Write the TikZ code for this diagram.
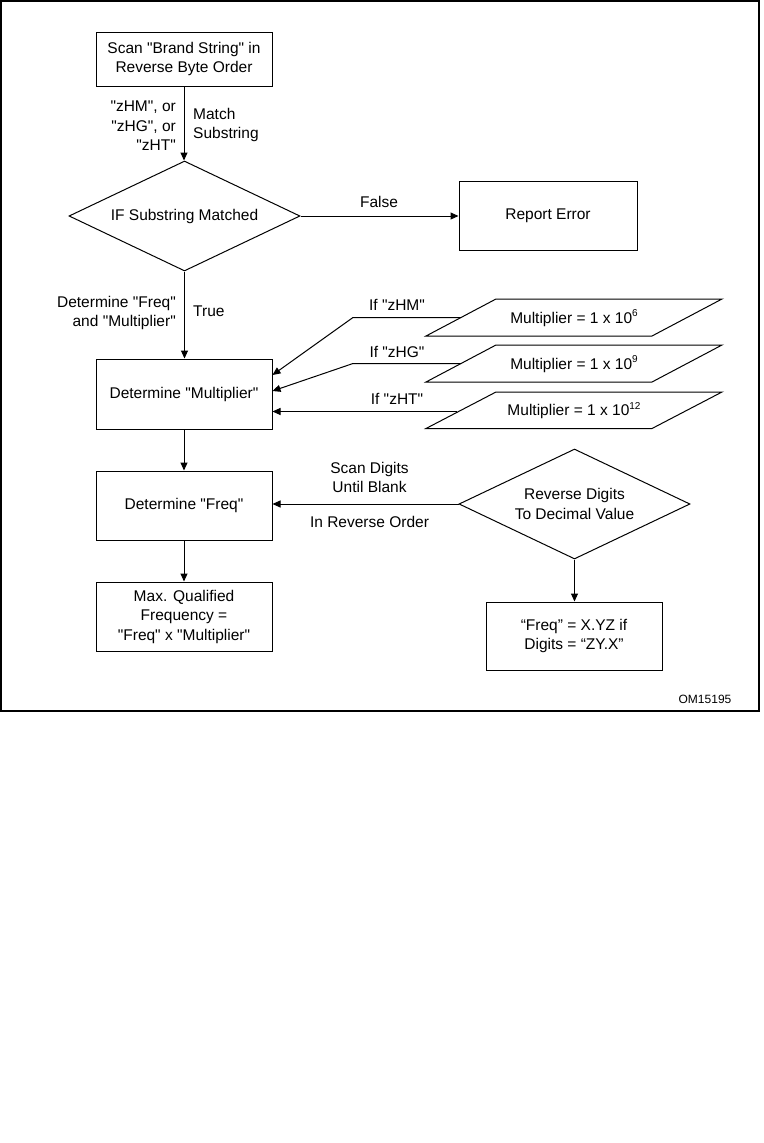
\documentclass[tikz,border=0pt]{standalone}
\usepackage{fontspec}
\setmainfont{Liberation Sans}[Ligatures=TeXOff]
\usetikzlibrary{arrows.meta,shapes.geometric,calc}
\newcommand{\supnum}[1]{\raisebox{0.42em}{\fontsize{10}{10}\selectfont #1}}
\begin{document}
\begin{tikzpicture}[x=1pt,y=-1pt,
  every node/.style={font=\fontsize{15.5}{19.5}\selectfont},
  box/.style={draw,line width=1pt,inner sep=0pt,align=center,minimum width=176pt},
  dia/.style={draw,diamond,aspect=2.1,line width=1pt,inner sep=0pt,align=center,minimum width=231pt,minimum height=110pt},
  lbl/.style={inner sep=0pt},
  arr/.style={line width=1pt,-{Triangle[length=8pt,width=7pt]}},
  plg/.style={line width=1pt},
]
\useasboundingbox (0,0) rectangle (763,1143);
\fill[white] (0,0) rectangle (763,1143);
\draw[line width=1.5pt] (1,1) rectangle (759,711);

% main nodes
\node[box,minimum height=54pt] (scan) at (184,59) {Scan "Brand String" in\\Reverse Byte Order};
\node[dia] (ifm) at (184.5,216) {IF Substring Matched};
\node[box,minimum width=178pt,minimum height=69pt] (err) at (548,215.5) {Report Error};
\node[box,minimum height=70pt] (mult) at (184,394) {Determine "Multiplier"};
\node[box,minimum height=69pt] (freq) at (184,505.5) {Determine "Freq"};
\node[box,minimum height=69pt] (maxf) at (184,616.5) {Max. Qualified\\Frequency =\\"Freq" x "Multiplier"};
\node[dia] (rev) at (574.5,504) {Reverse Digits\\To Decimal Value};
\node[box,minimum height=68pt] (res) at (574,636) {“Freq” = X.YZ if\\Digits = “ZY.X”};

% parallelograms
\draw[plg] (426,336) -- (496,299) -- (722,299) -- (652,336) -- cycle;
\node (m1) at (574,318) {Multiplier = 1 x 10\supnum{6}};
\draw[plg] (426,382) -- (496,345) -- (722,345) -- (652,382) -- cycle;
\node (m2) at (574,364) {Multiplier = 1 x 10\supnum{9}};
\draw[plg] (426,428.5) -- (496,392) -- (722,392) -- (652,428.5) -- cycle;
\node (m3) at (574,410.5) {Multiplier = 1 x 10\supnum{12}};

\coordinate (s1) at (461,317.5);
\coordinate (k1) at (353,317.5);
\coordinate (s2) at (461,363.5);
\coordinate (k2) at (353,363.5);
\coordinate (s3) at (457,411.5);

% labels
\node[lbl,anchor=east,align=right] (lz) at (176,126) {"zHM", or\\"zHG", or\\"zHT"};
\node[lbl,anchor=west,align=left] (lms) at (193,125) {Match\\Substring};
\node[lbl] (lf) at (379,202) {False};
\node[lbl,anchor=east,align=right] (ldf) at (176,313) {Determine "Freq"\\and "Multiplier"};
\node[lbl,anchor=west] (lt) at (193,311) {True};
\node[lbl] (li1) at (397,305) {If "zHM"};
\node[lbl] (li2) at (397,352) {If "zHG"};
\node[lbl] (li3) at (397,399) {If "zHT"};
\node[lbl,align=center] (lsd) at (369.5,477.5) {Scan Digits\\Until Blank};
\node[lbl] (lro) at (369.5,522) {In Reverse Order};
\node[font=\fontsize{12}{14}\selectfont] (om) at (705,699) {OM15195};

% connectors
\draw[arr] (scan.south) -- (scan.south |- ifm.north);
\draw[arr] (ifm.east) -- (ifm.east -| err.west);
\draw[arr] (ifm.south) -- (ifm.south |- mult.north);
\draw[arr] (mult.south) -- (mult.south |- freq.north);
\draw[arr] (freq.south) -- (freq.south |- maxf.north);
\draw[arr] (rev.west) -- (rev.west -| freq.east);
\draw[arr] (rev.south) -- (rev.south |- res.north);
\draw[arr] (s1) -- (k1) -- ($(mult.east)+(0,-19)$);
\draw[arr] (s2) -- (k2) -- ($(mult.east)+(0,-3)$);
\draw[arr] (s3) -- (s3 -| mult.east);
\end{tikzpicture}
\end{document}
